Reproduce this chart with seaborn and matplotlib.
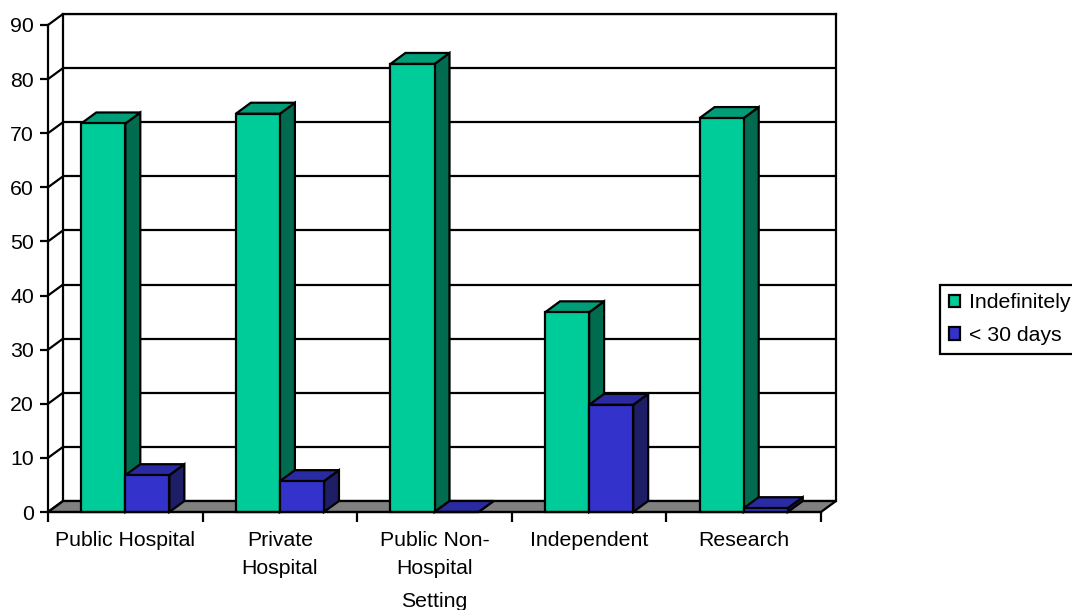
import numpy as np
import pandas as pd
import matplotlib
matplotlib.use("Agg")
import matplotlib.pyplot as plt
from matplotlib.patches import Polygon, Patch, Rectangle
from matplotlib.colors import to_hex
import seaborn as sns

# ---- data -------------------------------------------------------------
settings = ["Public Hospital", "Private\nHospital", "Public Non-\nHospital",
            "Independent", "Research"]
series = ["Indefinitely", "< 30 days"]
indefinitely = [71.8, 73.6, 82.8, 36.9, 72.8]
under_30_days = [6.8, 5.7, 0.0, 19.8, 0.7]
y_ticks = list(range(0, 91, 10))

# ---- styling ----------------------------------------------------------
sns.set_theme(style="white")
plt.rcParams["font.family"] = ["Liberation Sans", "DejaVu Sans"]
plt.rcParams["text.color"] = "black"
plt.rcParams["axes.labelcolor"] = "black"
FS = 15.3
LW = 1.6

front_col = {"Indefinitely": "#00CC99", "< 30 days": "#3333CC"}
top_col = {"Indefinitely": "#009E78", "< 30 days": "#2A2AA2"}
side_col = {"Indefinitely": "#006B4F", "< 30 days": "#1E1E66"}

df = pd.DataFrame({
    "Setting": settings * 2,
    "value": indefinitely + under_30_days,
    "Series": [series[0]] * len(settings) + [series[1]] * len(settings),
})

W, H = 1072, 610
fig = plt.figure(figsize=(W / 100, H / 100), dpi=100)

# front plane and the depth offset of the back wall (pixels)
x0, x1, yb, yt = 48, 821, 512, 25
ddx, ddy = 15, 11

# back wall with its gridlines
wall = fig.add_axes([(x0 + ddx) / W, (H - yb + ddy) / H, (x1 - x0) / W, (yb - yt) / H])
wall.set_xlim(-0.5, len(settings) - 0.5)
wall.set_ylim(0, 90)
wall.set_yticks(y_ticks)
wall.set_xticks([])
wall.tick_params(length=0, labelleft=False, labelbottom=False)
wall.grid(axis="y", color="black", lw=LW)
for s in ["left", "top", "right"]:
    wall.spines[s].set_visible(True)
    wall.spines[s].set_color("black")
    wall.spines[s].set_linewidth(LW)
wall.spines["bottom"].set_visible(False)
wall.set_facecolor("white")

# front axes holding the bars
ax = fig.add_axes([x0 / W, (H - yb) / H, (x1 - x0) / W, (yb - yt) / H])
ax.set_facecolor("none")
sns.barplot(data=df, x="Setting", y="value", hue="Series", hue_order=series,
            palette=[front_col[s] for s in series], width=0.57, saturation=1,
            edgecolor="black", linewidth=LW, legend=False, ax=ax)
ax.set_xlim(-0.5, len(settings) - 0.5)
ax.set_ylim(0, 90)
bars = sorted([p for p in ax.patches if isinstance(p, Rectangle)],
              key=lambda p: p.get_x())

# depth offset converted to data units
dx = ddx * len(settings) / (x1 - x0)
dy = ddy * 90 / (yb - yt)

# floor
floor = Polygon([(-0.5, 0), (len(settings) - 0.5, 0),
                 (len(settings) - 0.5 + dx, dy), (-0.5 + dx, dy)],
                closed=True, facecolor="#808080", edgecolor="black", lw=LW,
                zorder=1.5, clip_on=False)
ax.add_patch(floor)

# side wall diagonals at each tick
for v in y_ticks:
    ax.plot([-0.5, -0.5 + dx], [v, v + dy], color="black", lw=LW,
            clip_on=False, zorder=1.6, solid_capstyle="butt")

# give each bar a top and a side face
hex_to_series = {to_hex(front_col[s]).lower(): s for s in series}
for i, b in enumerate(bars):
    s = hex_to_series.get(to_hex(b.get_facecolor()).lower())
    if s is None:
        continue
    x, w, h = b.get_x(), b.get_width(), b.get_height()
    base = 3 + 2 * i
    side = Polygon([(x + w, 0), (x + w + dx, dy), (x + w + dx, h + dy), (x + w, h)],
                   closed=True, facecolor=side_col[s], edgecolor="black", lw=LW,
                   zorder=base, clip_on=False, joinstyle="miter")
    top = Polygon([(x, h), (x + w, h), (x + w + dx, h + dy), (x + dx, h + dy)],
                  closed=True, facecolor=top_col[s], edgecolor="black", lw=LW,
                  zorder=base, clip_on=False, joinstyle="miter")
    ax.add_patch(side)
    ax.add_patch(top)
    b.set_zorder(base + 1)
    b.set_clip_on(False)

# axes lines and ticks
for s in ["top", "right"]:
    ax.spines[s].set_visible(False)
for s in ["left", "bottom"]:
    ax.spines[s].set_visible(True)
    ax.spines[s].set_color("black")
    ax.spines[s].set_linewidth(LW)
    ax.spines[s].set_zorder(50)

ax.set_yticks(y_ticks)
ax.set_yticklabels([str(v) for v in y_ticks], fontsize=FS, color="black")
ax.tick_params(axis="y", left=True, length=5.8, width=LW, pad=4.3, color="black")

ax.set_xticks(np.arange(-0.5, len(settings), 1.0))
ax.set_xticklabels([])
ax.tick_params(axis="x", which="major", bottom=True, length=7.2, width=LW,
               color="black", direction="out")
ax.set_xticks(range(len(settings)), minor=True)
ax.set_xticklabels(settings, minor=True, fontsize=FS, color="black",
                   linespacing=1.6, multialignment="center")
ax.tick_params(axis="x", which="minor", bottom=True, length=0, pad=13.5)
ax.grid(False)

ax.set_xlabel("Setting", fontsize=FS, color="black", labelpad=10.5)
ax.set_ylabel("")

# legend
handles = [Patch(facecolor=front_col[s], edgecolor="black", lw=LW) for s in series]
leg = ax.legend(handles, series, loc="upper left",
                bbox_to_anchor=(940 / W, 1 - 285 / H), bbox_transform=fig.transFigure,
                frameon=True, fancybox=False, framealpha=1, edgecolor="black",
                borderaxespad=0, handlelength=0.52, handleheight=0.52,
                handletextpad=0.45, labelspacing=0.64, borderpad=0.4,
                fontsize=FS, labelcolor="black")
leg.get_frame().set_linewidth(LW)
leg.set_zorder(100)

fig.savefig("out.png", dpi=100)
